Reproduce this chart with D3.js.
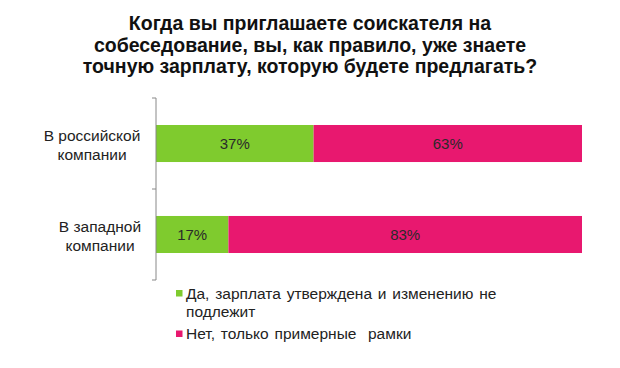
<!DOCTYPE html>
<html><head><meta charset="utf-8">
<script src="https://cdn.jsdelivr.net/npm/d3@7"></script>
<style>body{margin:0;background:#fff}svg{display:block}</style>
</head><body>
<script>
const titleLines = ["Когда вы приглашаете соискателя на","собеседование, вы, как правило, уже знаете","точную зарплату, которую будете предлагать?"];
const categories = ["В российской компании","В западной компании"];
const categoryLines = [["В российской","компании"],["В западной","компании"]];
const seriesNames = ["Да, зарплата утверждена и изменению не подлежит","Нет, только примерные  рамки"];
const legendLines = [["Да, зарплата утверждена и изменению не","подлежит"],["Нет, только примерные  рамки"]];
const yesValues = [37,17];
const noValues = [63,83];
const colors = ["#7fcb2e","#e8186f"];

(function(){
const W=620,H=368;
const svg=d3.select("body").append("svg").attr("width",W).attr("height",H);
const pl=156,pr=582,pt=98,pb=280;

svg.append("g").selectAll("text").data(titleLines).join("text")
  .attr("x",310).attr("y",(d,i)=>30+i*21.5).attr("text-anchor","middle")
  .attr("font-family","'Liberation Sans Narrow','Arial Narrow','Liberation Sans',sans-serif")
  .attr("font-weight","bold").attr("font-size",19.5).attr("fill","#111").text(d=>d);

const x=d3.scaleLinear().domain([0,100]).range([pl,pr]);
const y=d3.scaleBand().domain(categories).range([pt,pb]).paddingInner(0.593).paddingOuter(0.2967);

const stack=d3.stack().keys([0,1]).value((d,k)=>k===0?yesValues[d]:noValues[d]);
const series=stack([0,1]);

const g=svg.append("g");
series.forEach((s,k)=>{
  g.selectAll(null).data(s).join("rect")
    .attr("x",d=>x(d[0])).attr("width",d=>x(d[1])-x(d[0]))
    .attr("y",(d,i)=>y(categories[i])).attr("height",y.bandwidth())
    .attr("fill",colors[k]);
  g.selectAll(null).data(s).join("text")
    .attr("x",d=>(x(d[0])+x(d[1]))/2).attr("y",(d,i)=>y(categories[i])+y.bandwidth()/2+5.5)
    .attr("text-anchor","middle").attr("font-family","'Liberation Sans',Arial,sans-serif")
    .attr("font-size",15).attr("fill","#2a2a2a").text(d=>(d[1]-d[0])+"%");
});

const yAxis=d3.scaleBand().domain(categories).range([pt,pb]);
const ax=svg.append("g").attr("transform",`translate(${pl},0)`);
ax.append("line").attr("x1",0).attr("x2",0).attr("y1",pt).attr("y2",pb).attr("stroke","#888");
const tickYs=[pt].concat(categories.map(c=>yAxis(c)+yAxis.bandwidth()));
ax.selectAll(".tk").data(tickYs).join("line").attr("x1",-4).attr("x2",0)
  .attr("y1",d=>d).attr("y2",d=>d).attr("stroke","#888");

const labelCx=[92,100];
categories.forEach((c,i)=>{
  const cy=y(c)+y.bandwidth()/2;
  svg.append("text").attr("text-anchor","middle")
    .attr("font-family","'Liberation Sans',Arial,sans-serif").attr("font-size",15.5).attr("fill","#222")
    .selectAll("tspan").data(categoryLines[i]).join("tspan")
    .attr("x",labelCx[i]).attr("y",(d,j)=>cy-2.5+j*19).text(d=>d);
});

const legY=[298.5,339];
legendLines.forEach((lines,k)=>{
  svg.append("rect").attr("x",176).attr("y",legY[k]-8.5).attr("width",6.5).attr("height",6.5).attr("fill",colors[k]);
  svg.append("text").attr("font-family","'Liberation Sans',Arial,sans-serif").attr("font-size",15.5).attr("fill","#222")
    .attr("word-spacing",1.5).style("white-space","pre")
    .selectAll("tspan").data(lines).join("tspan").attr("x",186).attr("y",(d,j)=>legY[k]+j*18).text(d=>d);
});
})();
</script>
</body></html>
